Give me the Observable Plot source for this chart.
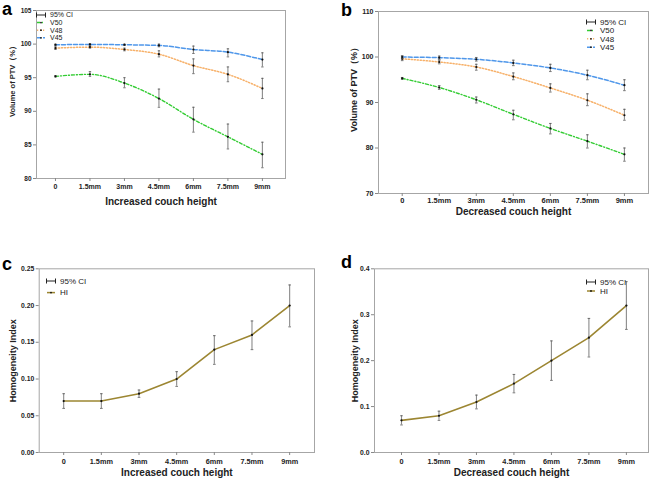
<!DOCTYPE html>
<html><head><meta charset="utf-8">
<script src="https://cdn.jsdelivr.net/npm/d3@7"></script>
<script src="https://cdn.jsdelivr.net/npm/@observablehq/plot@0.6"></script>
<style>
body{margin:0;background:#fff;font-family:"Liberation Sans",Arial,sans-serif;}
#root{position:relative;width:653px;height:478px;overflow:hidden;}
.panel{position:absolute;}
.letter{position:absolute;font-weight:bold;font-size:18px;line-height:1.1;}
</style></head><body>
<div id="root"></div>
<script>
const categories = ["0","1.5mm","3mm","4.5mm","6mm","7.5mm","9mm"];

// Panel a: increased couch height
const aV50 = [95.2, 95.5, 94.2, 91.9, 88.8, 86.2, 83.6];
const aV50lo = [95.1, 95.2, 93.5, 90.6, 86.9, 84.4, 81.6];
const aV50hi = [95.3, 95.9, 95.0, 93.3, 90.6, 88.1, 85.4];
const aV48 = [99.4, 99.55, 99.2, 98.5, 96.8, 95.5, 93.4];
const aV48lo = [99.2, 99.4, 99.0, 98.1, 95.6, 94.4, 91.9];
const aV48hi = [99.6, 99.7, 99.4, 99.0, 97.8, 96.6, 94.9];
const aV45 = [99.9, 99.95, 99.9, 99.8, 99.2, 98.8, 97.7];
const aV45lo = [99.8, 99.85, 99.8, 99.6, 98.6, 98.1, 96.6];
const aV45hi = [100.0, 100.05, 100.0, 100.0, 99.7, 99.3, 98.7];

// Panel b: decreased couch height
const bV50 = [95.3, 93.3, 90.6, 87.4, 84.3, 81.5, 78.6];
const bV50lo = [95.1, 92.9, 89.9, 86.2, 83.1, 80.0, 77.1];
const bV50hi = [95.5, 93.7, 91.2, 88.3, 85.4, 82.9, 80.0];
const bV48 = [99.6, 98.9, 97.8, 95.7, 93.2, 90.5, 87.2];
const bV48lo = [99.2, 98.5, 97.1, 95.0, 92.3, 89.3, 86.1];
const bV48hi = [100.0, 99.3, 98.4, 96.5, 94.1, 91.9, 88.5];
const bV45 = [100.0, 99.85, 99.5, 98.7, 97.6, 96.0, 93.8];
const bV45lo = [99.6, 99.5, 99.1, 98.1, 96.8, 95.0, 92.6];
const bV45hi = [100.3, 100.2, 99.9, 99.3, 98.4, 97.1, 95.0];

// Panel c: HI, increased couch height
const cHI = [0.07, 0.07, 0.08, 0.10, 0.14, 0.16, 0.20];
const cHIlo = [0.060, 0.060, 0.075, 0.090, 0.120, 0.140, 0.171];
const cHIhi = [0.080, 0.080, 0.085, 0.110, 0.159, 0.179, 0.228];

// Panel d: HI, decreased couch height
const dHI = [0.07, 0.08, 0.11, 0.15, 0.20, 0.25, 0.32];
const dHIlo = [0.060, 0.070, 0.095, 0.130, 0.157, 0.208, 0.268];
const dHIhi = [0.080, 0.090, 0.125, 0.170, 0.243, 0.292, 0.372];

const yTicksA = [80, 85, 90, 95, 100, 105];
const yTicksB = [70, 80, 90, 100, 110];
const yTicksC = [0, 0.05, 0.10, 0.15, 0.20, 0.25];
const yTicksD = [0, 0.1, 0.2, 0.3, 0.4];

const seriesStyle = {
  V50: {stroke: "#33cc33", dash: "3,2,1,2", width: 1.4},
  V48: {stroke: "#f7b16a", dash: "1.2,1.8", width: 1.5},
  V45: {stroke: "#4f97ea", dash: "4,2", width: 1.5},
  HI:  {stroke: "#9c8632", dash: null, width: 1.6}
};

const root = document.getElementById("root");

function rows(name, v, lo, hi) {
  return categories.map((c, i) => ({i, cat: c, name, v: v[i], lo: lo[i], hi: hi[i]}));
}

function makePanel(cfg) {
  const {series, xdomain, ydomain, yticks, yfmt, m, w, h, xlabel, ylabel, ylabelSize, tickSize, ylabelDx, ylabelDy, xlabelDy, xPad} = cfg;
  const marks = [];
  marks.push(Plot.frame({stroke: "#a6a6a6", strokeWidth: 1}));
  marks.push(Plot.axisY({ticks: yticks, tickFormat: yfmt, tickSize: 3, tickPadding: 2, stroke: "#888",
    fontSize: tickSize, fontWeight: "bold", label: null, fill: "#222"}));
  marks.push(Plot.axisX({ticks: d3.range(categories.length), tickFormat: i => categories[i], tickSize: 3, tickPadding: xPad,
    stroke: "#888", fontSize: tickSize + 0.5, fontWeight: "bold", label: null, fill: "#222"}));
  for (const s of series) {
    const st = seriesStyle[s.name];
    const data = rows(s.name, s.v, s.lo, s.hi);
    marks.push(Plot.line(data, {x: "i", y: "v", stroke: st.stroke, strokeWidth: st.width,
      strokeDasharray: st.dash, curve: s.name === "HI" ? "linear" : "monotone-x"}));
  }
  for (const s of series) {
    const data = rows(s.name, s.v, s.lo, s.hi);
    marks.push(Plot.ruleX(data, {x: "i", y1: "lo", y2: "hi", stroke: "#8a8a8a", strokeWidth: 1.1}));
    marks.push(Plot.link(data, {x1: d => d.i - 0.035, x2: d => d.i + 0.035, y1: "lo", y2: "lo", stroke: "#555", strokeWidth: 0.8}));
    marks.push(Plot.link(data, {x1: d => d.i - 0.035, x2: d => d.i + 0.035, y1: "hi", y2: "hi", stroke: "#555", strokeWidth: 0.8}));
    marks.push(Plot.dot(data, {x: "i", y: "v", r: 1.1, fill: "#111", stroke: "none"}));
  }
  marks.push(Plot.text([xlabel], {frameAnchor: "bottom", textAnchor: "middle", lineAnchor: "middle", dy: xlabelDy, text: d => d, fontSize: 10, fontWeight: "bold", fill: "#222"}));
  marks.push(Plot.text([ylabel], {frameAnchor: "left", textAnchor: "middle", lineAnchor: "middle", dx: ylabelDx, dy: ylabelDy, rotate: -90, text: d => d, fontSize: ylabelSize, fontWeight: "bold", fill: "#222"}));
  return Plot.plot({
    width: w, height: h,
    marginLeft: m[0], marginTop: m[1], marginRight: m[2], marginBottom: m[3],
    style: {fontFamily: "'Liberation Sans', Arial, sans-serif", background: "transparent", overflow: "visible"},
    x: {domain: xdomain, axis: null},
    y: {domain: ydomain, axis: null},
    marks
  });
}

function place(el, left, top) {
  const d = document.createElement("div");
  d.className = "panel";
  d.style.left = left + "px"; d.style.top = top + "px";
  d.appendChild(el);
  root.appendChild(d);
}

function letter(t, left, top) {
  const d = document.createElement("div");
  d.className = "letter"; d.textContent = t;
  d.style.left = left + "px"; d.style.top = top + "px";
  root.appendChild(d);
}

function legend(items, left, top, gap, fs) {
  const w = 80, hgt = gap * items.length + 6;
  const svg = d3.create("svg").attr("width", w).attr("height", hgt)
    .style("position", "absolute").style("left", left + "px").style("top", top + "px");
  items.forEach((name, k) => {
    const y = 4 + k * gap;
    if (name === "95% CI") {
      svg.append("line").attr("x1", 0).attr("x2", 10).attr("y1", y).attr("y2", y).attr("stroke", "#222").attr("stroke-width", 1);
      svg.append("line").attr("x1", 0.5).attr("x2", 0.5).attr("y1", y - 2.5).attr("y2", y + 2.5).attr("stroke", "#222");
      svg.append("line").attr("x1", 9.5).attr("x2", 9.5).attr("y1", y - 2.5).attr("y2", y + 2.5).attr("stroke", "#222");
    } else {
      const st = seriesStyle[name];
      svg.append("line").attr("x1", 1).attr("x2", 9).attr("y1", y).attr("y2", y).attr("stroke", st.stroke)
        .attr("stroke-width", 1.5).attr("stroke-dasharray", st.dash);
      svg.append("circle").attr("cx", 5).attr("cy", y).attr("r", 0.9).attr("fill", "#111");
    }
    svg.append("text").attr("x", 14).attr("y", y).attr("dy", "0.35em").attr("font-size", fs)
      .attr("font-family", "'Liberation Sans', Arial, sans-serif").attr("fill", "#222").text(name);
  });
  root.appendChild(svg.node());
}

// Panel a
place(makePanel({
  series: [{name: "V50", v: aV50, lo: aV50lo, hi: aV50hi}, {name: "V48", v: aV48, lo: aV48lo, hi: aV48hi}, {name: "V45", v: aV45, lo: aV45lo, hi: aV45hi}],
  xdomain: [-0.55, 6.67], ydomain: [80, 105], yticks: yTicksA, yfmt: d3.format("d"),
  m: [36, 10, 40, 37], w: 325, h: 215, xlabel: "Increased couch height", ylabel: "Volume of PTV（%）",
  ylabelSize: 7.5, tickSize: 6.5, ylabelDx: -24, ylabelDy: -15, xlabelDy: 23, xPad: 3
}), 0, 0);

// Panel b
place(makePanel({
  series: [{name: "V50", v: bV50, lo: bV50lo, hi: bV50hi}, {name: "V48", v: bV48, lo: bV48lo, hi: bV48hi}, {name: "V45", v: bV45, lo: bV45lo, hi: bV45hi}],
  xdomain: [-0.64, 6.65], ydomain: [70, 110], yticks: yTicksB, yfmt: d3.format("d"),
  m: [53, 11, 5, 27], w: 328, h: 220, xlabel: "Decreased couch height", ylabel: "Volume of PTV（%）",
  ylabelSize: 9, tickSize: 7, ylabelDx: -24, ylabelDy: -15, xlabelDy: 18, xPad: 1
}), 325, 0);

// Panel c
place(makePanel({
  series: [{name: "HI", v: cHI, lo: cHIlo, hi: cHIhi}],
  xdomain: [-0.65, 6.66], ydomain: [0, 0.25], yticks: yTicksC, yfmt: d3.format(".2f"),
  m: [38.7, 33.3, 11, 26], w: 325, h: 243, xlabel: "Increased couch height", ylabel: "Homogeneity Index",
  ylabelSize: 9, tickSize: 6.8, ylabelDx: -26, ylabelDy: 0, xlabelDy: 20, xPad: 3
}), 0, 235);

// Panel d
place(makePanel({
  series: [{name: "HI", v: dHI, lo: dHIlo, hi: dHIhi}],
  xdomain: [-0.72, 6.59], ydomain: [0, 0.4], yticks: yTicksD, yfmt: d3.format(".1f"),
  m: [49, 33.3, 5, 26], w: 328, h: 243, xlabel: "Decreased couch height", ylabel: "Homogeneity Index",
  ylabelSize: 9, tickSize: 6.8, ylabelDx: -19, ylabelDy: 0, xlabelDy: 20, xPad: 3
}), 325, 235);

letter("a", 2, 0);
letter("b", 341, 1);
letter("c", 2, 255);
letter("d", 341, 253);

legend(["95% CI", "V50", "V48", "V45"], 36, 11, 7.6, 7);
legend(["95% CI", "V50", "V48", "V45"], 586, 18, 8.4, 8);
legend(["95% CI", "HI"], 45.5, 277, 11.6, 8);
legend(["95% CI", "HI"], 586, 278, 9, 8);
</script>
</body></html>
